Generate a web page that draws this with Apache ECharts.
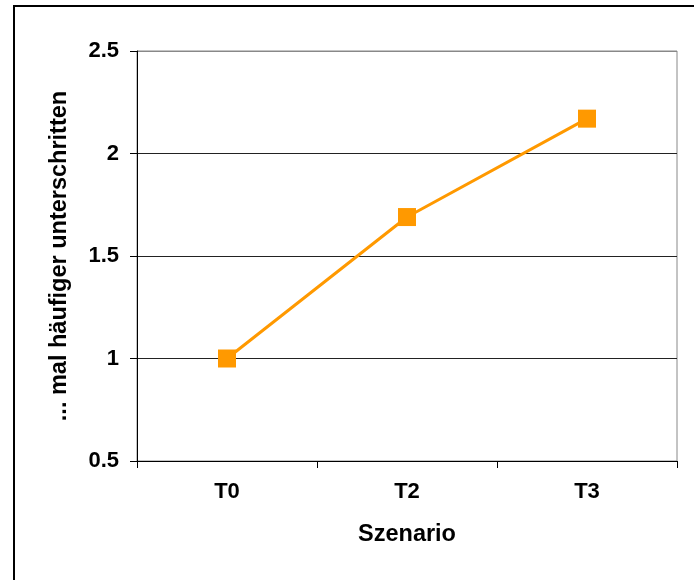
<!DOCTYPE html>
<html><head><meta charset="utf-8">
<script src="https://cdn.jsdelivr.net/npm/echarts@6/dist/echarts.min.js"></script>
<style>html,body{margin:0;padding:0;background:#fff}#c{width:694px;height:580px}</style>
</head><body><div id="c"></div>
<script>
var categories = ['T0', 'T2', 'T3'];
var values = [1.0, 1.69, 2.17];
var yMin = 0.5, yMax = 2.5, yStep = 0.5;
var xName = 'Szenario';
var yName = '... mal häufiger unterschritten';

var chart = echarts.init(document.getElementById('c'), null, {renderer: 'canvas'});
var font = 'Liberation Sans, Arial, sans-serif';
chart.setOption({
  animation: false,
  backgroundColor: '#fff',
  graphic: [{
    type: 'rect', shape: {x: 14, y: 6, width: 720, height: 620},
    style: {fill: 'none', stroke: '#000', lineWidth: 2}, silent: true
  }],
  grid: {left: 137, right: 17, top: 51, bottom: 119, show: true, borderColor: '#888', borderWidth: 1, backgroundColor: 'transparent'},
  xAxis: {
    type: 'category', data: categories, boundaryGap: true,
    name: xName, nameLocation: 'middle', nameGap: 62,
    nameTextStyle: {fontFamily: font, fontWeight: 'bold', fontSize: 23.5, color: '#000'},
    axisLine: {lineStyle: {color: '#000', width: 1}},
    axisTick: {show: true, length: 7, lineStyle: {color: '#000'}},
    axisLabel: {fontFamily: font, fontWeight: 'bold', fontSize: 22, color: '#000', margin: 20},
    splitLine: {show: false}
  },
  yAxis: {
    type: 'value', min: yMin, max: yMax, interval: yStep,
    name: yName, nameLocation: 'middle', nameGap: 65, nameRotate: 90,
    nameTextStyle: {fontFamily: font, fontWeight: 'bold', fontSize: 23.5, color: '#000'},
    axisLine: {show: true, lineStyle: {color: '#000', width: 1}},
    axisTick: {show: true, length: 7, lineStyle: {color: '#000'}},
    axisLabel: {fontFamily: font, fontWeight: 'bold', fontSize: 22, color: '#000', margin: 18,
      formatter: function (v) { return String(Math.round(v * 10) / 10); }},
    splitLine: {show: true, lineStyle: {color: ['#000', '#222', '#222', '#222', '#888'], width: 1}}
  },
  series: [{
    type: 'line', data: values,
    symbol: 'rect', symbolSize: 18,
    itemStyle: {color: '#FF9900'},
    lineStyle: {color: '#FF9900', width: 3}
  }]
});
</script></body></html>
